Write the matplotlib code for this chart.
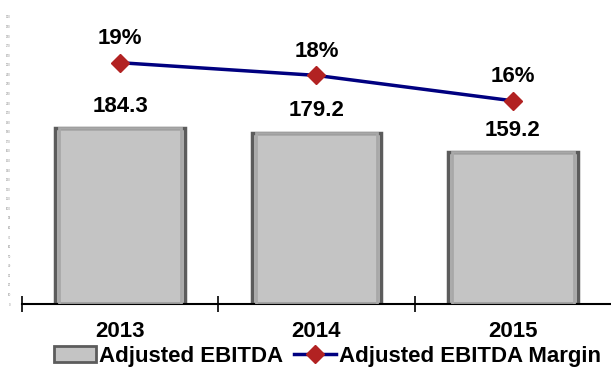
import matplotlib.pyplot as plt
from matplotlib.lines import Line2D
from matplotlib.patches import Patch

years = ['2013', '2014', '2015']
ebitda = [184.3, 179.2, 159.2]
margin = [19, 18, 16]

plt.rcParams['font.family'] = ['Liberation Sans', 'DejaVu Sans']

fig = plt.figure(figsize=(6.11, 3.69), dpi=100)
ax = fig.add_axes([0.036, 0.176, 0.964, 0.778])
x = list(range(len(years)))

# bars with a bevel-like look
ax.bar(x, ebitda, width=0.66, color='#c4c4c4', edgecolor='#5c5c5c', linewidth=2.5, zorder=2)
ax.bar(x, ebitda, width=0.62, color='none', edgecolor='#a8a8a8', linewidth=2, zorder=3)
for i, v in enumerate(ebitda):
    ax.annotate(f'{v:.1f}', (x[i], v), xytext=(0, 8), textcoords='offset points',
                ha='center', va='bottom', fontsize=16, fontweight='bold')

ax.set_ylim(0, 300)
ax.set_xlim(-0.5, 2.5)
ax.set_yticks(range(0, 301, 10))
ax.tick_params(axis='y', labelsize=2, labelcolor='#888888', length=0, pad=8)
ax.set_xticks([-0.5, 0.5, 1.5])
ax.set_xticklabels([])
ax.set_xticks(x, minor=True)
ax.set_xticklabels(years, minor=True, fontsize=16, fontweight='bold')
ax.tick_params(axis='x', which='major', direction='inout', length=12, width=1.2)
ax.tick_params(axis='x', which='minor', length=0, pad=12)
for s in ['top', 'right', 'left']:
    ax.spines[s].set_visible(False)
ax.spines['bottom'].set_linewidth(1.5)

ax2 = ax.twinx()
ax2.set_ylim(0, 22.6)
ax2.plot(x, margin, color='#000080', linewidth=2.5, marker='D', markersize=9,
         markerfacecolor='#b22222', markeredgecolor='#b22222', zorder=5)
for i, v in enumerate(margin):
    ax2.annotate(f'{v}%', (x[i], v), xytext=(0, 10), textcoords='offset points',
                 ha='center', va='bottom', fontsize=16, fontweight='bold')
ax2.axis('off')

handles = [Patch(facecolor='#c4c4c4', edgecolor='#5c5c5c', linewidth=2),
           Line2D([0], [0], color='#000080', linewidth=2.5, marker='D', markersize=9,
                  markerfacecolor='#b22222', markeredgecolor='#b22222')]
fig.legend(handles, ['Adjusted EBITDA', 'Adjusted EBITDA Margin'], loc='center',
           bbox_to_anchor=(0.536, 0.035), ncol=2, frameon=False, handlelength=1.9,
           handletextpad=0.15, columnspacing=0.45, borderpad=0.1,
           prop={'size': 16, 'weight': 'bold'})

fig.savefig('out.png', dpi=100)
